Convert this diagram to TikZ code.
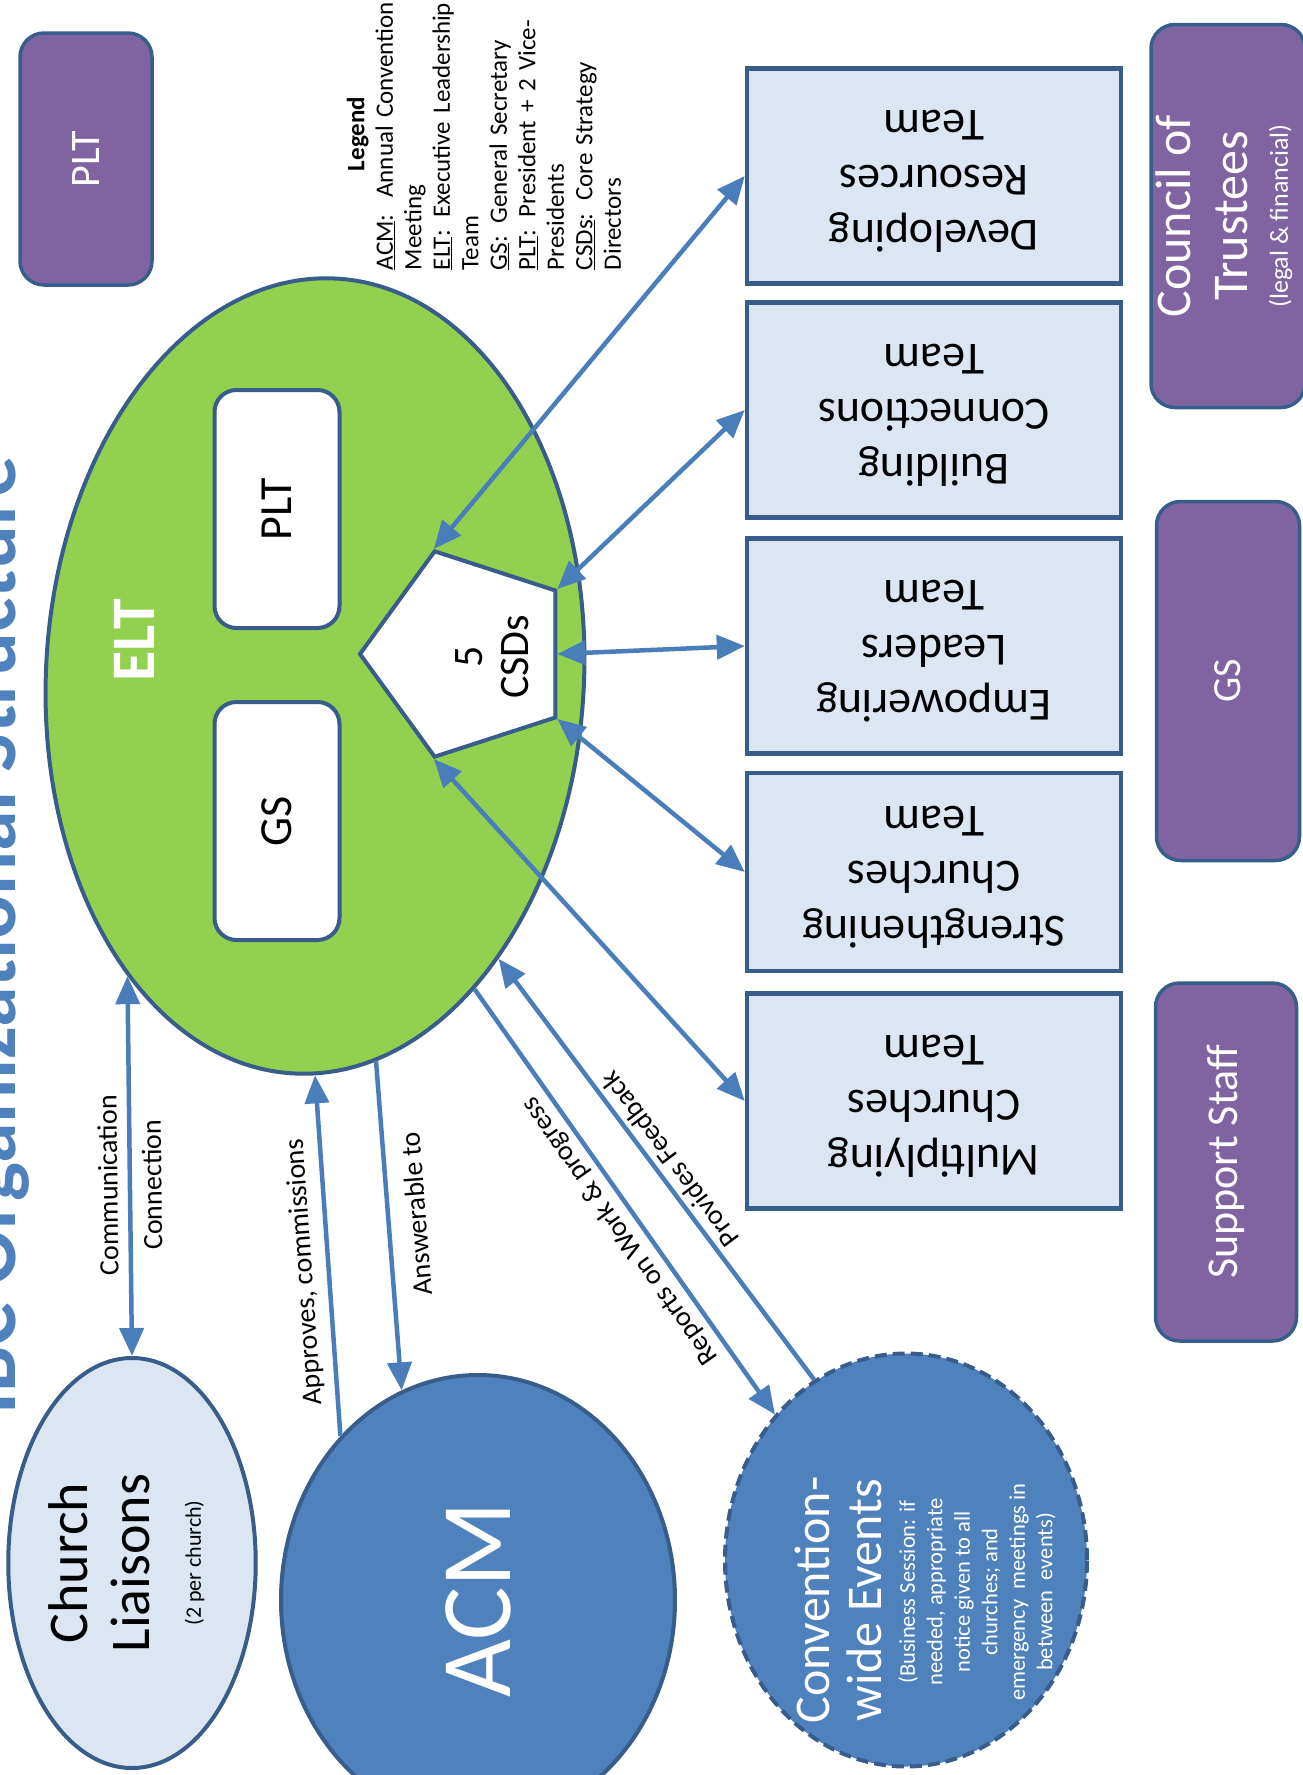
\documentclass[tikz,border=0pt]{standalone}
\usepackage{fontspec}
\setmainfont{Carlito}
\usepackage{graphicx}
\usetikzlibrary{arrows.meta,shapes.geometric}

\definecolor{bordblue}{HTML}{385D8A}
\definecolor{linkblue}{HTML}{4A7EBB}
\definecolor{eltgreen}{HTML}{92D050}
\definecolor{teamfill}{HTML}{DCE6F2}
\definecolor{boardpurple}{HTML}{8064A2}
\definecolor{acmblue}{HTML}{4F81BD}
\definecolor{titleblue}{HTML}{4F81BD}

\newcommand{\fsz}[2]{\fontsize{#1}{#2}\selectfont}
\newcommand{\uptxt}[1]{\rotatebox{90}{\begin{tabular}{@{}c@{}}#1\end{tabular}}}
\newcommand{\fliptxt}[1]{\rotatebox{180}{\begin{tabular}{@{}c@{}}#1\end{tabular}}}

\tikzset{
  >={Triangle[length=28pt,width=24pt]},
  link/.style={draw=linkblue, line width=4.5pt},
  lbl/.style={midway, sloped, allow upside down, inner sep=2pt, font=\fsz{28}{32}},
  teambox/.style={draw=bordblue, fill=teamfill, line width=4.5pt, minimum width=374, inner sep=0, font=\fsz{46}{55}},
  purplebox/.style={draw=bordblue, fill=boardpurple, line width=3.5pt, rounded corners=24pt, text=white, inner sep=0},
  whitebox/.style={draw=bordblue, fill=white, line width=4pt, rounded corners=22pt, inner sep=0, minimum width=125, minimum height=238, font=\fsz{46}{52}},
  roundbox/.style={ellipse, draw=bordblue, line width=4pt, inner sep=0},
}

\begin{document}
\begin{tikzpicture}[x=1pt,y=-1pt]
  \useasboundingbox (0,0) rectangle (1303,1775);
  % title, cut by the page edge
  \node[rotate=90, anchor=base west, inner sep=0, text=titleblue, font=\fsz{82}{90}\bfseries] (title) at (16,1415) {IBC Organizational Structure};
  % top left
  \node[purplebox, minimum width=132, minimum height=252] (plttop) at (86,159) {\rotatebox{90}{\fsz{42}{48}PLT}};
  % legend
  \node[rotate=90, text width=272pt, align=left, inner sep=0, font=\fsz{25}{28.5}] (legend) at (484,134)
    {\makebox[272pt]{\bfseries Legend}\\
     \underline{ACM}:\ \ Annual Convention\\ Meeting\\
     \underline{ELT}: Executive Leadership\\ Team\\
     \underline{GS}: General Secretary\\
     \underline{PLT}: President + 2 Vice-\\ Presidents\\
     \underline{CSDs}: Core Strategy\\ Directors};

  % ELT and what sits in it
  \node[roundbox, fill=eltgreen, minimum width=538, minimum height=796, rotate=-3] (elt) at (315,676) {};
  \node[text=white, font=\fsz{62}{66}\bfseries] (elttxt) at (134,640) {\rotatebox{90}{ELT}};
  \node[whitebox] (pltin) at (277,509) {\rotatebox{90}{PLT}};
  \node[whitebox] (gsin) at (277,821) {\rotatebox{90}{GS}};
  \node[regular polygon, regular polygon sides=5, rotate=90, draw=bordblue, fill=white, line width=4pt, minimum size=216, inner sep=0] (csd) at (468,654) {};
  \node[rotate=90, align=center, font=\fsz{42}{46}] (csdtxt) at (492,657) {5\\CSDs};

  % strategy teams
  \node[teambox, minimum height=215] (dev) at (934,176) {\fliptxt{Developing\\Resources\\Team}};
  \node[teambox, minimum height=215] (bld) at (934,410) {\fliptxt{Building\\Connections\\Team}};
  \node[teambox, minimum height=215] (emp) at (934,646) {\fliptxt{Empowering\\Leaders\\Team}};
  \node[teambox, minimum height=198] (str) at (934,872) {\fliptxt{Strengthening\\Churches\\Team}};
  \node[teambox, minimum height=215] (mul) at (934,1101) {\fliptxt{Multiplying\\Churches\\Team}};

  % right column
  \node[purplebox, minimum width=143, minimum height=383] (cot) at (1228,216)
    {\fsz{50}{57}\uptxt{Council of\\Trustees\\[-17pt]{\fsz{26}{28}(legal \& financial)}}};
  \node[purplebox, minimum width=143, minimum height=359] (gsr) at (1228,681) {\rotatebox{90}{\fsz{40}{46}GS}};
  \node[purplebox, minimum width=141, minimum height=358] (staff) at (1226,1162) {\rotatebox{90}{\fsz{44}{50}Support Staff}};

  % bottom row
  \node[roundbox, fill=teamfill, minimum width=238, minimum height=410, font=\fsz{56}{62}] (cl) at (132,1563)
    {\uptxt{Church\\Liaisons\\[-11pt]{\fsz{22}{26}(2 per church)}}};
  \node[roundbox, fill=acmblue, minimum width=394, minimum height=450, text=white, font=\fsz{100}{110}] (acm) at (478,1600) {\rotatebox{90}{ACM}};
  \node[roundbox, fill=acmblue, dash pattern=on 12pt off 6pt, minimum width=362, minimum height=413] (conv) at (906,1560) {};
  \node[rotate=90, align=center, text=white, font=\fsz{50}{52}] (convtitle) at (838,1600) {Convention-\\wide Events};
  \node[rotate=90, align=center, text=white, font=\fsz{22.5}{27.5}] (convnote) at (977,1592)
    {(Business Session: if\\needed, appropriate\\notice given to all\\churches; and\\emergency\ \ meetings in\\between\ \ events)};

  % connectors
  \draw[link, <->] (cl.north) -- node[lbl, pos=0.45, above=8pt] {Communication} node[lbl, pos=0.45, below=8pt] {Connection} (elt.241);
  \draw[link, ->] (acm.130) -- node[lbl, pos=0.46, above=8pt] {Approves, commissions} (elt.273.4);
  \draw[link, <-] (acm.110) -- node[lbl, pos=0.53, below=14pt] {Answerable to} (elt.282.5);
  \draw[link, <-] (conv.132) -- node[lbl, pos=0.46, above=4pt] {Reports on Work \& progress} (elt.300.4);
  \draw[link, ->] (conv.117.6) -- node[lbl, pos=0.5, below=2pt] {Provides Feedback} (elt.306.9);
  \draw[link, <->] (csd.corner 5) -- (dev.west);
  \draw[link, <->] (csd.corner 4) -- (bld.west);
  \draw[link, <->] (csd.side 3) -- (emp.west);
  \draw[link, <->] (csd.corner 3) -- (str.west);
  \draw[link, <->] (csd.corner 2) -- (mul.west);
\end{tikzpicture}
\end{document}
